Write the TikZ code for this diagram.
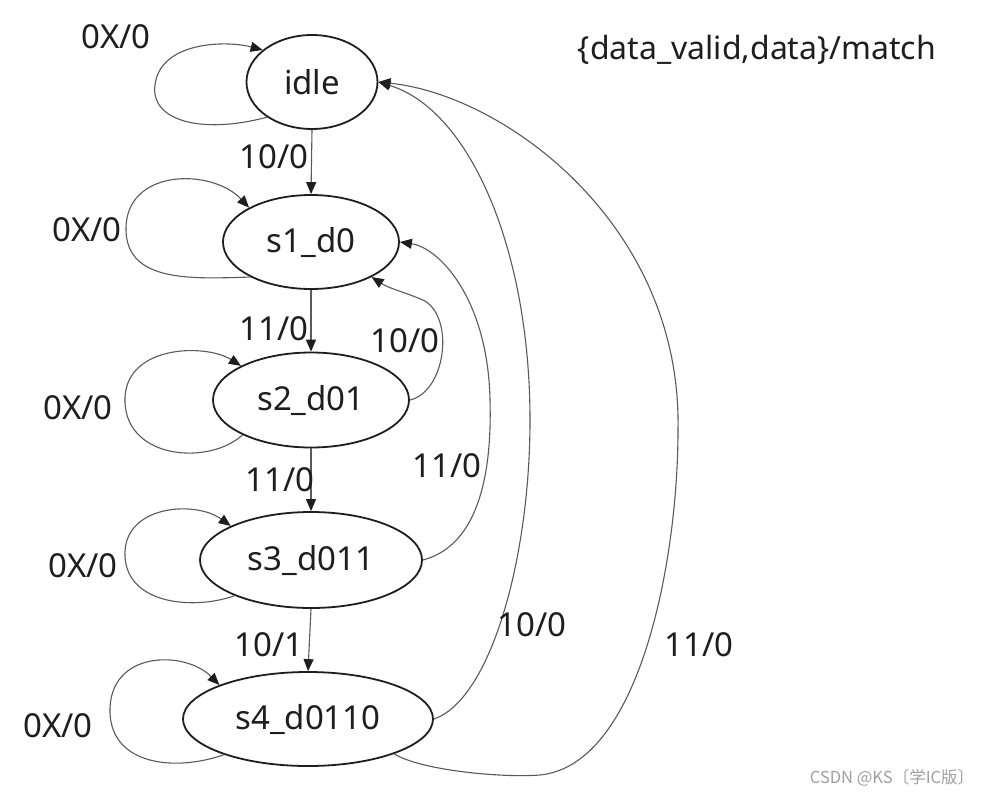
\documentclass[tikz,border=0pt]{standalone}
\usepackage{fontspec}
\setmainfont{Noto Sans}
\newfontfamily\cjkfont{Noto Sans CJK SC}
\usetikzlibrary{arrows.meta,shapes.geometric}
\definecolor{ink}{HTML}{1E1E1E}
\definecolor{wirec}{HTML}{5A5A5A}
\definecolor{markc}{HTML}{A0A0A0}
\newcommand\lblfont{\fontsize{33}{38}\selectfont}
\begin{document}
\begin{tikzpicture}[x=1pt,y=-1pt,
  state/.style={ellipse, draw=ink, line width=1.8pt, inner sep=0pt, text=ink, font=\lblfont},
  lbl/.style={text=ink, font=\lblfont, inner sep=0pt},
  wire/.style={draw=wirec, line width=1.1pt, -{Triangle[length=12pt,width=10pt,color=ink]}},
]
\useasboundingbox[fill=white] (0,0) rectangle (996,796);

% states
\node[state, minimum width=131pt, minimum height=94pt] (idle) at (312,82) {idle};
\node[state, minimum width=176pt, minimum height=94pt] (s1) at (311,242) {s1\_d0};
\node[state, minimum width=196pt, minimum height=95pt] (s2) at (311,400) {s2\_d01};
\node[state, minimum width=222pt, minimum height=96pt] (s3) at (311,560) {s3\_d011};
\node[state, minimum width=250pt, minimum height=94pt] (s4) at (308,719) {s4\_d0110};

% title and watermark
\node[lbl, font=\fontsize{32}{38}\selectfont] (title) at (757,50) {\{data\_valid,data\}/match};
\node[text=markc, inner sep=0pt, font=\cjkfont\fontsize{16.5}{20}\selectfont] (wm) at (892,778) {CSDN @KS〔学IC版〕};

% straight transitions
\draw[wire] (idle.south) -- (s1.north);
\draw[wire] (s1.south) -- (s2.north);
\draw[wire] (s2.south) -- (s3.north);
\draw[wire] (s3.south) -- (s4.north);
\node[lbl] (l01) at (274,157) {10/0};
\node[lbl] (l12) at (274,329) {11/0};
\node[lbl] (l23) at (280,480) {11/0};
\node[lbl] (l34) at (269,645) {10/1};

% self loops
\draw[wire] (idle.218) .. controls (200,135) and (150,120) .. (155,85) .. controls (160,42) and (225,40) .. (idle.147);
\draw[wire] (s1.210) .. controls (190,279) and (127,282) .. (126,230) .. controls (125,168) and (212,168) .. (s1.151);
\draw[wire] (s2.207) .. controls (210,465) and (128,460) .. (125,403) .. controls (122,345) and (205,343) .. (s2.154);
\draw[wire] (s3.205) .. controls (195,610) and (128,605) .. (125,557) .. controls (122,505) and (195,500) .. (s3.157);
\draw[wire] (s4.203) .. controls (175,772) and (112,765) .. (110,713) .. controls (108,650) and (185,650) .. (s4.159);
\node[lbl] (lo0) at (116,37) {0X/0};
\node[lbl] (lo1) at (87,230) {0X/0};
\node[lbl] (lo2) at (78,408) {0X/0};
\node[lbl] (lo3) at (83,566) {0X/0};
\node[lbl] (lo4) at (58,726) {0X/0};

% back transitions
\draw[wire] (s2.east) .. controls (445,392) and (455,320) .. (425,301) .. controls (405,292) and (390,289) .. (s1.330);
\node[lbl] (lb21) at (405,341) {10/0};
\draw[wire] (s3.east) .. controls (480,545) and (492,470) .. (490,400) .. controls (488,300) and (440,248) .. (s1.east);
\node[lbl] (lb31) at (447,466) {11/0};
\draw[wire] (s4.east) .. controls (490,700) and (530,560) .. (530,420) .. controls (530,250) and (470,110) .. (idle.east);
\node[lbl] (lb40) at (532,625) {10/0};
\draw[wire] (s4.338) .. controls (420,770) and (500,778) .. (540,775) .. controls (640,765) and (678,560) .. (678,430) .. controls (682,225) and (505,95) .. (idle.east);
\node[lbl] (lb40b) at (699,645) {11/0};
\end{tikzpicture}
\end{document}
